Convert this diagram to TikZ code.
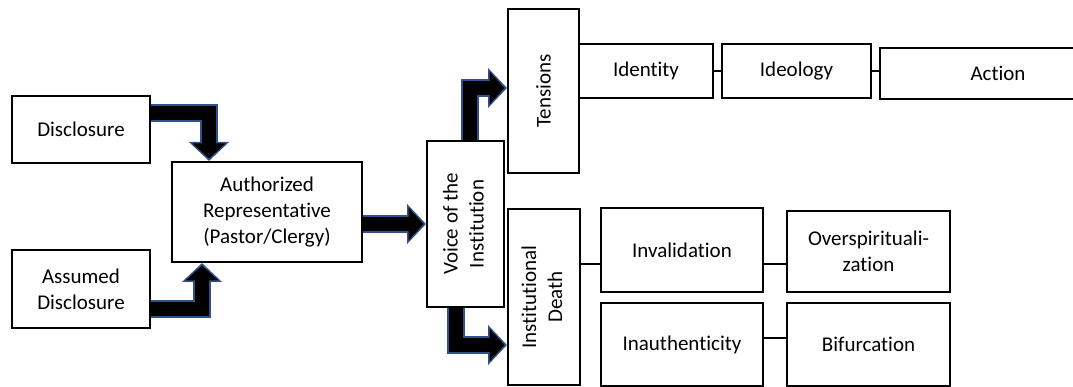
\documentclass[tikz,border=0pt]{standalone}
\usepackage{fontspec}
\setmainfont[Ligatures=NoCommon]{Carlito}
\usetikzlibrary{arrows.meta}
\definecolor{arrowblue}{RGB}{47,82,143}

\begin{document}
\begin{tikzpicture}[x=1pt,y=-1pt,
  box/.style={draw,line width=2pt,align=center,inner sep=0pt,font=\fontsize{21}{26}\selectfont},
  link/.style={line width=1.3pt},
  bigarrow/.style={draw=arrowblue,line width=18pt,line join=miter,-{Triangle[length=19pt,width=39pt]},
    postaction={draw=black,line width=14pt,line join=miter,shorten >=2.5pt,-{Triangle[length=15pt,width=32pt]}}}]
  \useasboundingbox (0,0) rectangle (1073,387);
  \node[box,minimum width=138pt,minimum height=67pt] (disc) at (81,129.5) {Disclosure};
  \node[box,minimum width=138pt,minimum height=78pt] (assumed) at (81,289) {Assumed\\Disclosure};
  \node[box,minimum width=190pt,minimum height=100pt] (auth) at (267,212) {Authorized\\Representative\\(Pastor/Clergy)};
  \node[box,minimum width=77pt,minimum height=166pt] (voice) at (465.5,224) {\rotatebox{90}{\begin{tabular}{@{}c@{}}Voice of the\\Institution\end{tabular}}};
  \node[box,minimum width=71pt,minimum height=164pt] (tensions) at (543.5,91) {\rotatebox{90}{Tensions}};
  \node[box,minimum width=72pt,minimum height=176pt] (death) at (544,297) {\rotatebox{90}{\begin{tabular}{@{}c@{}}Institutional\\Death\end{tabular}}};
  \node[box,minimum width=134pt,minimum height=54pt] (identity) at (646,71) {Identity};
  \node[box,minimum width=149pt,minimum height=54pt] (ideology) at (796.5,71) {Ideology};
  \node[box,minimum width=236pt,minimum height=51pt] (action) at (998,73.5) {Action};
  \node[box,minimum width=162pt,minimum height=84pt] (inval) at (682,250) {Invalidation};
  \node[box,minimum width=163pt,minimum height=81pt] (oversp) at (868.5,251.5) {Overspirituali-\\zation};
  \node[box,minimum width=162pt,minimum height=83pt] (inauth) at (682,344.5) {Inauthenticity};
  \node[box,minimum width=163pt,minimum height=83pt] (bifur) at (868.5,344.5) {Bifurcation};

  \draw[link] (identity.east) -- (ideology.west);
  \draw[link] (ideology.east) -- (ideology.east -| action.west);
  \draw[link] ([yshift=-14pt]inval.west) -- ([yshift=-14pt]inval.west -| death.east);
  \draw[link] ([yshift=-14pt]inval.east) -- ([yshift=-14pt]inval.east -| oversp.west);
  \draw[link] ([yshift=6.5pt]inauth.east) -- ([yshift=6.5pt]inauth.east -| bifur.west);

  \draw[bigarrow] ([yshift=16pt]disc.east) -| ([xshift=-58pt]auth.north);
  \draw[bigarrow] ([yshift=-19.5pt]assumed.east) -| ([xshift=-65pt]auth.south);
  \draw[bigarrow] (auth.east |- voice.west) -- (voice.west);
  \draw[bigarrow] ([xshift=4.5pt]voice.north) |- ([yshift=3pt]tensions.west);
  \draw[bigarrow] ([xshift=-10pt]voice.south) |- ([yshift=-48pt]death.west);
\end{tikzpicture}
\end{document}
